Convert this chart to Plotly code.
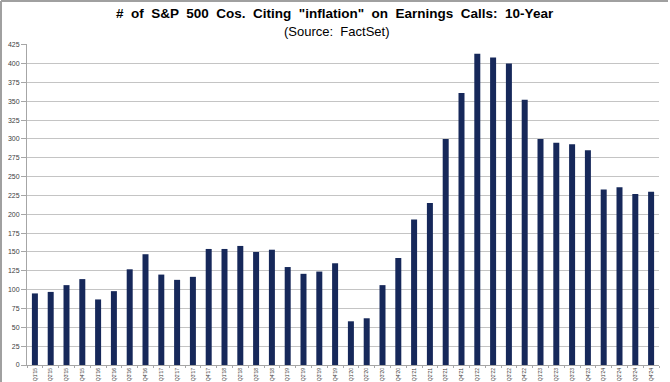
import plotly.graph_objects as go

quarters = [f"Q{q}'{y}" for y in range(15, 25) for q in range(1, 5)]
counts = [95, 97, 106, 114,
          87, 98, 127, 147,
          120, 113, 117, 154,
          154, 158, 150, 153,
          130, 121, 124, 135,
          58, 62, 106, 142,
          193, 215, 300, 361,
          413, 408, 400, 352,
          300, 295, 293, 285,
          233, 236, 227, 230]
y_ticks = list(range(0, 426, 25))
title_text = "# of S&P 500 Cos. Citing \"inflation\" on Earnings Calls: 10-Year"
subtitle_text = "(Source: FactSet)"

W, H = 670, 382
ML, MR, MT, MB = 27, 11, 44, 17
pw, ph = W - ML - MR, H - MT - MB

def px(x):
    return (x - ML) / pw

def py(y):
    # y is pixel from top of the picture
    return (H - MB - y) / ph

def widen(s, n):
    return s.replace(" ", " " + "\u00a0" * n)

FONT = "Liberation Sans, Arial, sans-serif"

fig = go.Figure(go.Bar(
    x=quarters, y=counts,
    marker=dict(color="#16285a", line=dict(width=0)),
    width=0.38,
))

fig.update_layout(
    width=W, height=H,
    margin=dict(l=ML, r=MR, t=MT, b=MB),
    paper_bgcolor="white", plot_bgcolor="white",
    showlegend=False,
    font=dict(family=FONT, color="#404040"),
    xaxis=dict(
        type="category", tickangle=-90,
        tickfont=dict(size=5, color="#404040"),
        showline=True, linecolor="#a6a6a6", linewidth=1,
        ticks="outside", ticklen=2, tickcolor="#a6a6a6", tickson="boundaries",
        showgrid=False, automargin=False,
        range=[-0.5, len(quarters) - 0.5],
    ),
    yaxis=dict(
        range=[0, 426], tickvals=y_ticks, ticktext=[str(v) for v in y_ticks],
        tickfont=dict(size=7, color="#404040"),
        showline=True, linecolor="#a6a6a6", linewidth=1,
        ticks="outside", ticklen=5, tickcolor="#a6a6a6",
        showgrid=True, gridcolor="#c4c4c4", gridwidth=1.3,
        zeroline=False, automargin=False,
    ),
    annotations=[
        dict(text="<b>" + widen(title_text, 1) + "</b>",
             x=px(335), y=py(14), xref="paper", yref="paper",
             xanchor="center", yanchor="middle", showarrow=False,
             font=dict(size=13.5, color="black", family=FONT)),
        dict(text=widen(subtitle_text, 1),
             x=px(336), y=py(31), xref="paper", yref="paper",
             xanchor="center", yanchor="middle", showarrow=False,
             font=dict(size=13, color="black", family=FONT)),
    ],
    shapes=[
        dict(type="line", xref="paper", yref="paper",
             x0=px(1), x1=px(1), y0=py(H), y1=py(1),
             line=dict(color="#a0a0a0", width=2)),
        dict(type="line", xref="paper", yref="paper",
             x0=px(1), x1=px(668), y0=py(1), y1=py(1),
             line=dict(color="#a0a0a0", width=2)),
    ],
)

fig.write_html("out.html", config={"displayModeBar": False},
               post_script="document.body.style.margin='0';document.body.style.overflow='hidden';")
